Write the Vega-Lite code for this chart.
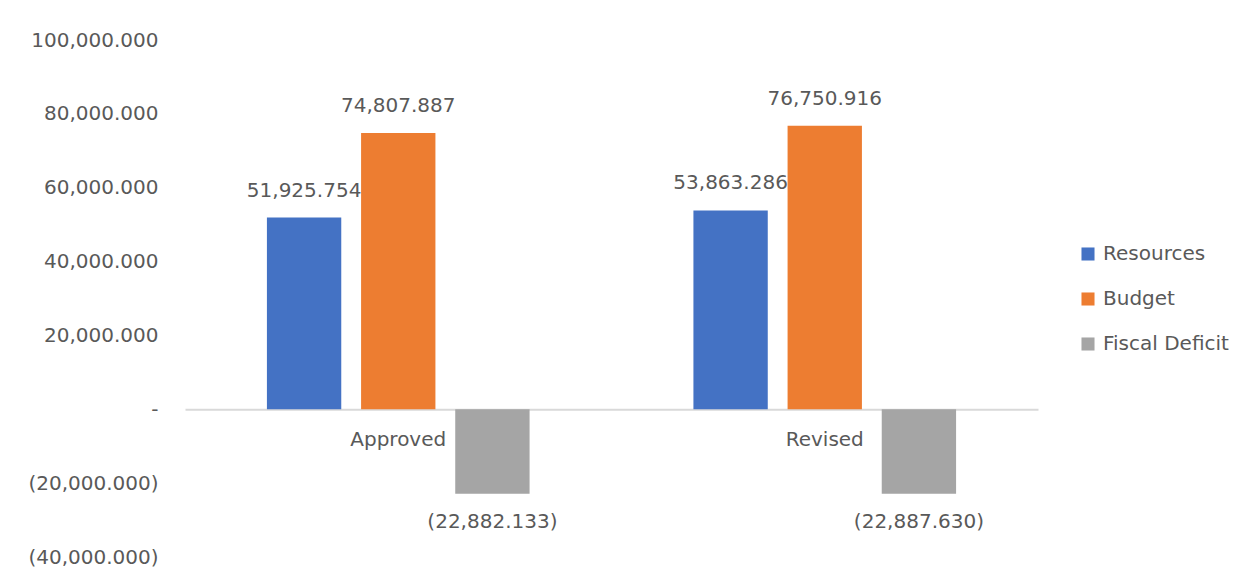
{
  "$schema": "https://vega.github.io/schema/vega-lite/v6.json",
  "autosize": {"type": "none"},
  "padding": {"left": 185, "top": 40, "right": 214, "bottom": 27},
  "width": 853,
  "height": 517,
  "background": "white",
  "config": {
    "view": {"stroke": null},
    "font": "DejaVu Sans"
  },
  "data": {
    "values": [
      {"period": "Approved", "series": "Resources", "value": 51925.754},
      {"period": "Approved", "series": "Budget", "value": 74807.887},
      {"period": "Approved", "series": "Fiscal Deficit", "value": -22882.133},
      {"period": "Revised", "series": "Resources", "value": 53863.286},
      {"period": "Revised", "series": "Budget", "value": 76750.916},
      {"period": "Revised", "series": "Fiscal Deficit", "value": -22887.630}
    ]
  },
  "encoding": {
    "x": {
      "field": "period",
      "type": "nominal",
      "sort": ["Approved", "Revised"],
      "scale": {"paddingInner": 0, "paddingOuter": 0},
      "axis": {
        "title": null,
        "orient": "bottom",
        "offset": -147.7,
        "domainColor": "#D9D9D9",
        "domainWidth": 2,
        "ticks": false,
        "labelAngle": 0,
        "labelPadding": 20,
        "labelFont": "DejaVu Sans",
        "labelFontSize": 20,
        "labelColor": "#595959"
      }
    },
    "xOffset": {
      "field": "series",
      "type": "nominal",
      "sort": ["Resources", "Budget", "Fiscal Deficit"],
      "scale": {"paddingInner": 0.2105, "paddingOuter": 0.87}
    },
    "y": {
      "field": "value",
      "type": "quantitative",
      "scale": {"domain": [-40000, 100000], "nice": false, "zero": false},
      "axis": {
        "title": null,
        "grid": false,
        "domain": false,
        "ticks": false,
        "values": [-40000, -20000, 0, 20000, 40000, 60000, 80000, 100000],
        "labelExpr": "datum.value == 0 ? '-\u00a0\u00a0' : (datum.value < 0 ? '(' + format(-datum.value, ',.3f') + ')' : format(datum.value, ',.3f'))",
        "labelPadding": 27,
        "labelFont": "DejaVu Sans",
        "labelFontSize": 20,
        "labelColor": "#595959"
      }
    }
  },
  "layer": [
    {
      "mark": {"type": "bar"},
      "encoding": {
        "color": {
          "field": "series",
          "type": "nominal",
          "sort": ["Resources", "Budget", "Fiscal Deficit"],
          "scale": {
            "domain": ["Resources", "Budget", "Fiscal Deficit"],
            "range": ["#4472C4", "#ED7D31", "#A5A5A5"]
          },
          "legend": {
            "title": null,
            "orient": "none",
            "legendX": 893,
            "legendY": 204,
            "padding": 0,
            "symbolType": "square",
            "symbolSize": 170,
            "symbolStrokeWidth": 0,
            "labelFont": "DejaVu Sans",
            "labelFontSize": 20,
            "labelColor": "#595959",
            "labelOffset": 5,
            "rowPadding": 25
          }
        }
      }
    },
    {
      "transform": [{"filter": "datum.value >= 0"}],
      "mark": {"type": "text", "baseline": "middle", "align": "center", "dy": -27, "font": "DejaVu Sans", "fontSize": 20, "color": "#595959"},
      "encoding": {
        "text": {"field": "value", "type": "quantitative", "format": "(,.3f"}
      }
    },
    {
      "transform": [{"filter": "datum.value < 0"}],
      "mark": {"type": "text", "baseline": "middle", "align": "center", "dy": 28, "font": "DejaVu Sans", "fontSize": 20, "color": "#595959"},
      "encoding": {
        "text": {"field": "value", "type": "quantitative", "format": "(,.3f"}
      }
    }
  ]
}
